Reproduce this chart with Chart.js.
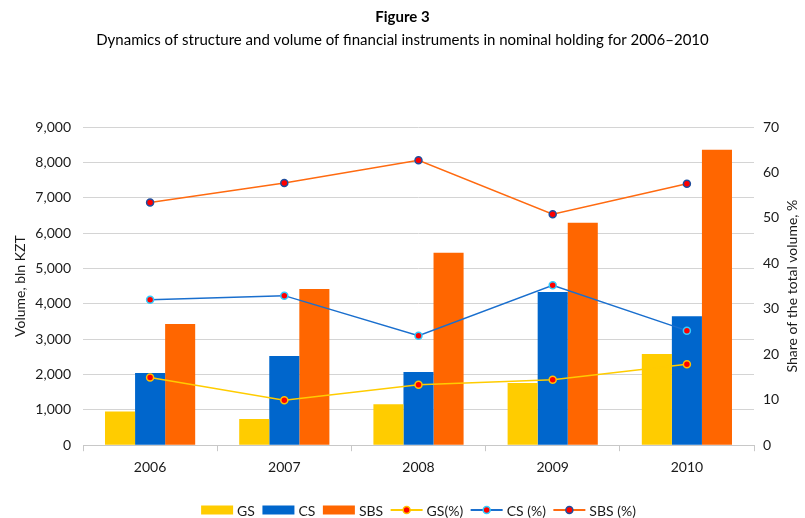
<!DOCTYPE html>
<html>
<head>
<meta charset="utf-8">
<script src="https://cdn.jsdelivr.net/npm/chart.js@4/dist/chart.umd.min.js"></script>
<style>
  html, body { margin: 0; padding: 0; background: #ffffff; }
  #wrap { width: 805px; height: 518px; }
</style>
</head>
<body>
<div id="wrap"><canvas id="chart" width="805" height="518"></canvas></div>
<script>
// Years on the category axis
const years = ['2006', '2007', '2008', '2009', '2010'];

// Volume in nominal holding, bln KZT (left axis)
const gsVolume  = [950, 740, 1160, 1760, 2580];
const csVolume  = [2040, 2520, 2070, 4330, 3650];
const sbsVolume = [3430, 4420, 5440, 6290, 8360];

// Share of the total volume, % (right axis)
const gsShare  = [14.9, 9.9, 13.3, 14.4, 17.8];
const csShare  = [32.0, 32.9, 24.1, 35.2, 25.2];
const sbsShare = [53.4, 57.7, 62.7, 50.8, 57.5];

// Axis tick values
const volumeTicks = [0, 1000, 2000, 3000, 4000, 5000, 6000, 7000, 8000, 9000];
const shareTicks  = [0, 10, 20, 30, 40, 50, 60, 70];

const TEXT = '#1a1a1a';
const GRID = '#d4d4d4';
const FONT = 'Lato, "Open Sans", sans-serif';

Chart.defaults.font.family = FONT;
Chart.defaults.font.size = 14;
Chart.defaults.color = TEXT;

// Legend row under the x axis: coloured box for bars, line with marker for shares
const bottomLegend = {
  id: 'bottomLegend',
  afterDraw(chart, args, opts) {
    const ctx = chart.ctx;
    const items = chart.data.datasets.filter(d => d.legendSwatch);
    const sw = 32, gapIn = 4, gapOut = 7.5;
    ctx.save();
    ctx.font = '14px ' + FONT;
    const widths = items.map(d => sw + gapIn + ctx.measureText(d.label).width);
    const total = widths.reduce((a, b) => a + b, 0) + gapOut * (items.length - 1);
    let x = (chart.chartArea.left + chart.chartArea.right) / 2 - total / 2;
    const y = opts.y;
    items.forEach((d, i) => {
      if (d.legendSwatch === 'bar') {
        ctx.fillStyle = d.backgroundColor;
        ctx.fillRect(x, y - 4.5, sw, 9);
      } else {
        ctx.strokeStyle = d.borderColor;
        ctx.lineWidth = 2;
        ctx.beginPath();
        ctx.moveTo(x, y);
        ctx.lineTo(x + sw, y);
        ctx.stroke();
        ctx.beginPath();
        ctx.arc(x + sw / 2, y, 3.5, 0, Math.PI * 2);
        ctx.fillStyle = d.pointBackgroundColor;
        ctx.fill();
        ctx.lineWidth = 1.5;
        ctx.strokeStyle = d.pointBorderColor;
        ctx.stroke();
      }
      ctx.fillStyle = TEXT;
      ctx.textBaseline = 'middle';
      ctx.textAlign = 'left';
      ctx.fillText(d.label, x + sw + gapIn, y + 1.5);
      x += widths[i] + gapOut;
    });
    ctx.restore();
  }
};

// Right axis title, written bottom-to-top like the left one
const rightAxisTitle = {
  id: 'rightAxisTitle',
  afterDraw(chart, args, opts) {
    const ctx = chart.ctx;
    const a = chart.chartArea;
    ctx.save();
    ctx.font = '14px ' + FONT;
    ctx.fillStyle = TEXT;
    ctx.textAlign = 'center';
    ctx.textBaseline = 'middle';
    ctx.translate(opts.x, (a.top + a.bottom) / 2);
    ctx.rotate(-Math.PI / 2);
    ctx.fillText(opts.text, 0, 0);
    ctx.restore();
  }
};

function shareLine(label, values, color, markerBorder) {
  return {
    type: 'line', label, data: values, yAxisID: 'y1',
    borderColor: color, borderWidth: 1.5, tension: 0,
    pointRadius: 3.5, pointBorderWidth: 1.5,
    pointBackgroundColor: '#ff0000', pointBorderColor: markerBorder,
    order: 0, legendSwatch: 'line'
  };
}
function volumeBars(label, values, color) {
  return {
    type: 'bar', label, data: values, yAxisID: 'y',
    backgroundColor: color, borderWidth: 0,
    categoryPercentage: 0.672, barPercentage: 1.0,
    order: 1, legendSwatch: 'bar'
  };
}

new Chart(document.getElementById('chart'), {
  data: {
    labels: years,
    datasets: [
      volumeBars('GS', gsVolume, '#ffcc00'),
      volumeBars('CS', csVolume, '#0066cc'),
      volumeBars('SBS', sbsVolume, '#ff6600'),
      shareLine('GS(%)', gsShare, '#ffcc00', '#ffc000'),
      shareLine('CS (%)', csShare, '#1a6fce', '#33ccff'),
      shareLine('SBS (%)', sbsShare, '#ff6a10', '#1f4e9e')
    ]
  },
  options: {
    responsive: false,
    animation: false,
    devicePixelRatio: 1,
    layout: { padding: { left: 0, right: 0, top: 0, bottom: 34 } },
    plugins: {
      legend: { display: false },
      tooltip: { enabled: false },
      title: {
        display: true, text: 'Figure 3', color: '#000',
        font: { size: 15, weight: 'bold' },
        padding: { top: 8, bottom: 0 }
      },
      subtitle: {
        display: true,
        text: 'Dynamics of structure and volume of financial instruments in nominal holding for 2006\u20132010',
        color: '#000',
        font: { size: 15 },
        padding: { top: 5, bottom: 78 }
      },
      bottomLegend: { y: 510 },
      rightAxisTitle: { x: 792, text: 'Share of the total volume, %' }
    },
    scales: {
      x: {
        type: 'category',
        offset: true,
        grid: { display: true, drawOnChartArea: false, drawTicks: true, tickLength: 6, color: '#c8c8c8', offset: true },
        border: { display: true, color: '#c8c8c8' },
        ticks: { padding: 8, color: TEXT }
      },
      y: {
        position: 'left',
        min: volumeTicks[0], max: volumeTicks[volumeTicks.length - 1],
        afterBuildTicks: s => { s.ticks = volumeTicks.map(v => ({ value: v })); },
        afterFit: s => { s.width = 83; },
        grid: { color: GRID, drawTicks: false },
        border: { display: false },
        ticks: { padding: 12, color: TEXT, callback: v => v.toLocaleString('en-US') },
        title: { display: true, text: 'Volume, bln KZT', color: TEXT, font: { size: 14 }, padding: { top: 12, bottom: 0 } }
      },
      y1: {
        position: 'right',
        min: shareTicks[0], max: shareTicks[shareTicks.length - 1],
        afterBuildTicks: s => { s.ticks = shareTicks.map(v => ({ value: v })); },
        afterFit: s => { s.width = 51; },
        grid: { display: false, drawTicks: false },
        border: { display: false },
        ticks: { padding: 9, color: TEXT }
      }
    }
  },
  plugins: [bottomLegend, rightAxisTitle]
});
</script>
</body>
</html>
